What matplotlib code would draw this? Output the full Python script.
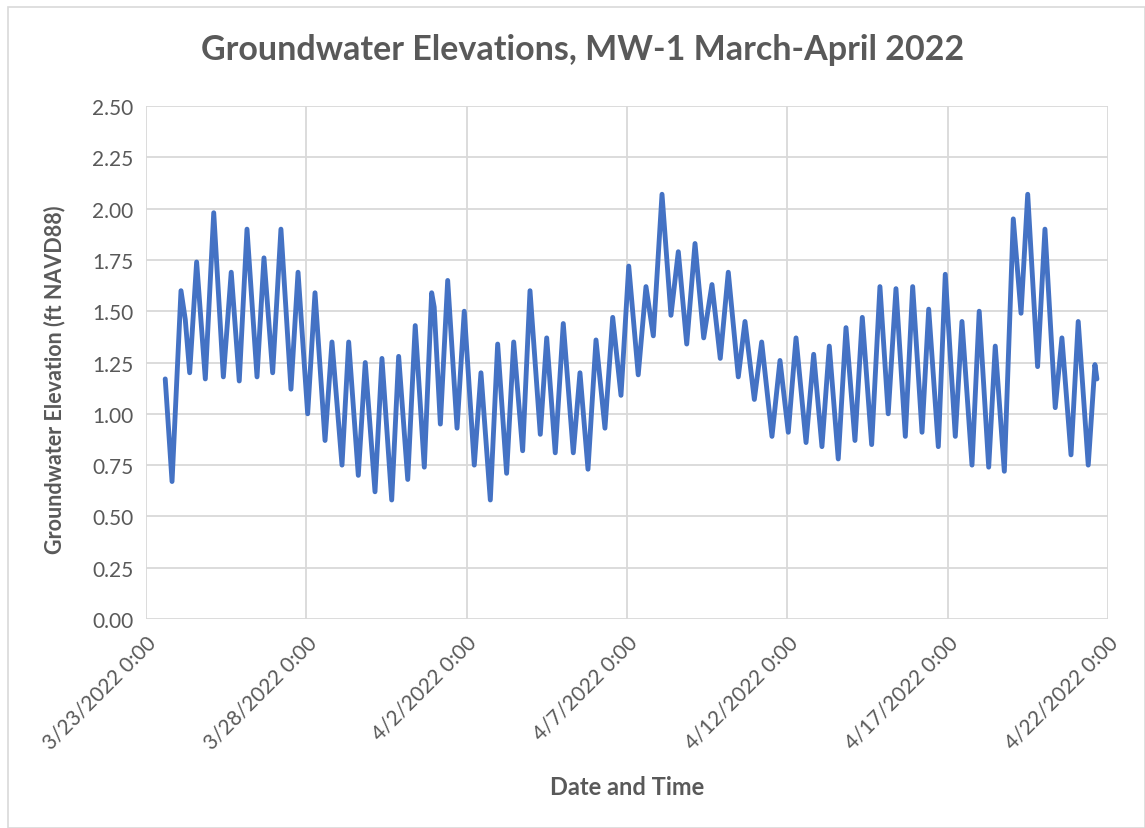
import numpy as np
import pandas as pd
import matplotlib
matplotlib.use("Agg")
import matplotlib.pyplot as plt
from matplotlib.patches import Rectangle

plt.rcParams["font.family"] = ["Lato", "DejaVu Sans"]

# tide extremes (peaks / troughs)
TIMES = [
    "2022-03-23 14:24", "2022-03-23 19:30", "2022-03-24 02:12", "2022-03-24 05:24",
    "2022-03-24 08:42", "2022-03-24 13:54", "2022-03-24 20:24", "2022-03-25 02:42",
    "2022-03-25 09:54", "2022-03-25 15:48", "2022-03-25 21:48", "2022-03-26 03:36",
    "2022-03-26 11:06", "2022-03-26 16:18", "2022-03-26 22:48", "2022-03-27 05:00",
    "2022-03-27 12:30", "2022-03-27 17:48", "2022-03-28 01:00", "2022-03-28 06:30",
    "2022-03-28 14:00", "2022-03-28 19:12", "2022-03-29 02:42", "2022-03-29 07:42",
    "2022-03-29 14:54", "2022-03-29 20:06", "2022-03-30 03:24", "2022-03-30 08:36",
    "2022-03-30 15:54", "2022-03-30 21:06", "2022-03-31 03:54", "2022-03-31 09:30",
    "2022-03-31 16:18", "2022-03-31 21:48", "2022-03-31 23:42", "2022-04-01 04:18",
    "2022-04-01 09:48", "2022-04-01 16:48", "2022-04-01 22:12", "2022-04-02 05:42",
    "2022-04-02 10:42", "2022-04-02 17:42", "2022-04-02 23:12", "2022-04-03 05:54",
    "2022-04-03 11:12", "2022-04-03 17:54", "2022-04-03 23:24", "2022-04-04 07:06",
    "2022-04-04 11:54", "2022-04-04 18:18", "2022-04-05 00:18", "2022-04-05 07:48",
    "2022-04-05 12:48", "2022-04-05 18:48", "2022-04-06 00:48", "2022-04-06 07:30",
    "2022-04-06 13:18", "2022-04-06 19:30", "2022-04-07 01:18", "2022-04-07 08:24",
    "2022-04-07 14:12", "2022-04-07 19:42", "2022-04-08 02:12", "2022-04-08 08:54",
    "2022-04-08 14:24", "2022-04-08 20:42", "2022-04-09 02:54", "2022-04-09 09:24",
    "2022-04-09 15:36", "2022-04-09 21:48", "2022-04-10 03:48", "2022-04-10 11:18",
    "2022-04-10 16:18", "2022-04-10 23:18", "2022-04-11 04:48", "2022-04-11 12:30",
    "2022-04-11 18:30", "2022-04-12 00:42", "2022-04-12 06:30", "2022-04-12 14:00",
    "2022-04-12 19:42", "2022-04-13 01:54", "2022-04-13 07:24", "2022-04-13 14:06",
    "2022-04-13 19:54", "2022-04-14 02:36", "2022-04-14 08:06", "2022-04-14 15:06",
    "2022-04-14 21:18", "2022-04-15 03:30", "2022-04-15 09:18", "2022-04-15 16:18",
    "2022-04-15 21:48", "2022-04-16 04:48", "2022-04-16 09:48", "2022-04-16 17:00",
    "2022-04-16 22:12", "2022-04-17 05:42", "2022-04-17 10:42", "2022-04-17 18:12",
    "2022-04-17 23:36", "2022-04-18 06:42", "2022-04-18 11:36", "2022-04-18 18:24",
    "2022-04-19 01:06", "2022-04-19 06:54", "2022-04-19 11:54", "2022-04-19 19:18",
    "2022-04-20 00:48", "2022-04-20 08:30", "2022-04-20 13:30", "2022-04-20 20:18",
    "2022-04-21 01:42", "2022-04-21 09:12", "2022-04-21 14:12", "2022-04-21 15:42",
]
ELEV = [
    1.17, 0.67, 1.60, 1.46,
    1.20, 1.74, 1.17, 1.98,
    1.18, 1.69, 1.16, 1.90,
    1.18, 1.76, 1.20, 1.90,
    1.12, 1.69, 1.00, 1.59,
    0.87, 1.35, 0.75, 1.35,
    0.70, 1.25, 0.62, 1.27,
    0.58, 1.28, 0.68, 1.43,
    0.74, 1.59, 1.52, 0.95,
    1.65, 0.93, 1.50, 0.75,
    1.20, 0.58, 1.34, 0.71,
    1.35, 0.82, 1.60, 0.90,
    1.37, 0.81, 1.44, 0.81,
    1.20, 0.73, 1.36, 0.93,
    1.47, 1.09, 1.72, 1.19,
    1.62, 1.38, 2.07, 1.48,
    1.79, 1.34, 1.83, 1.37,
    1.63, 1.27, 1.69, 1.18,
    1.45, 1.07, 1.35, 0.89,
    1.26, 0.91, 1.37, 0.86,
    1.29, 0.84, 1.33, 0.78,
    1.42, 0.87, 1.47, 0.85,
    1.62, 1.00, 1.61, 0.89,
    1.62, 0.91, 1.51, 0.84,
    1.68, 0.89, 1.45, 0.75,
    1.50, 0.74, 1.33, 0.72,
    1.95, 1.49, 2.07, 1.23,
    1.90, 1.03, 1.37, 0.80,
    1.45, 0.75, 1.24, 1.17,
]

X_TICKS = pd.date_range("2022-03-23", "2022-04-22", freq="5D")
Y_TICKS = np.arange(0, 2.51, 0.25)

TEXT = "#595959"
GRID = "#d9d9d9"
BLUE = "#4472C4"

t = pd.to_datetime(TIMES)

fig = plt.figure(figsize=(11.45, 8.29), dpi=100)
ax = fig.add_axes([0.1275, 0.2521, 0.8402, 0.6188])
ax.plot(t, ELEV, color=BLUE, lw=3.5, solid_joinstyle="round", solid_capstyle="round", zorder=3)

ax.set_xlim(X_TICKS[0], X_TICKS[-1])
ax.set_ylim(0, 2.5)
ax.set_xticks(X_TICKS)
ax.set_xticklabels([f"{d.month}/{d.day}/{d.year} 0:00" for d in X_TICKS],
                   rotation=45, ha="right", rotation_mode="anchor")
ax.set_yticks(Y_TICKS)
ax.set_yticklabels([f"{v:.2f}" for v in Y_TICKS])
ax.tick_params(length=0, labelsize=15, colors=TEXT, pad=9)
ax.grid(color=GRID, lw=1.3)
ax.set_axisbelow(True)
for s in ax.spines.values():
    s.set_visible(False)

ax.set_xlabel("Date and Time", fontsize=17, fontweight="bold", color=TEXT, va="center")
ax.xaxis.set_label_coords(0.5, -0.327)
ax.set_ylabel("Groundwater Elevation (ft NAVD88)", fontsize=15.5, fontweight="bold",
              color=TEXT)
ax.yaxis.set_label_coords(-0.084, 0.468)
fig.text(0.509, 0.94, "Groundwater Elevations, MW-1 March-April 2022", fontsize=24.5,
         fontweight="bold", color=TEXT, ha="center", va="center")

fig.patches.append(Rectangle((0.007, 0.0), 0.993, 0.99, transform=fig.transFigure,
                             fill=False, ec=GRID, lw=1.2))

fig.savefig("out.png", dpi=100, facecolor="white")
